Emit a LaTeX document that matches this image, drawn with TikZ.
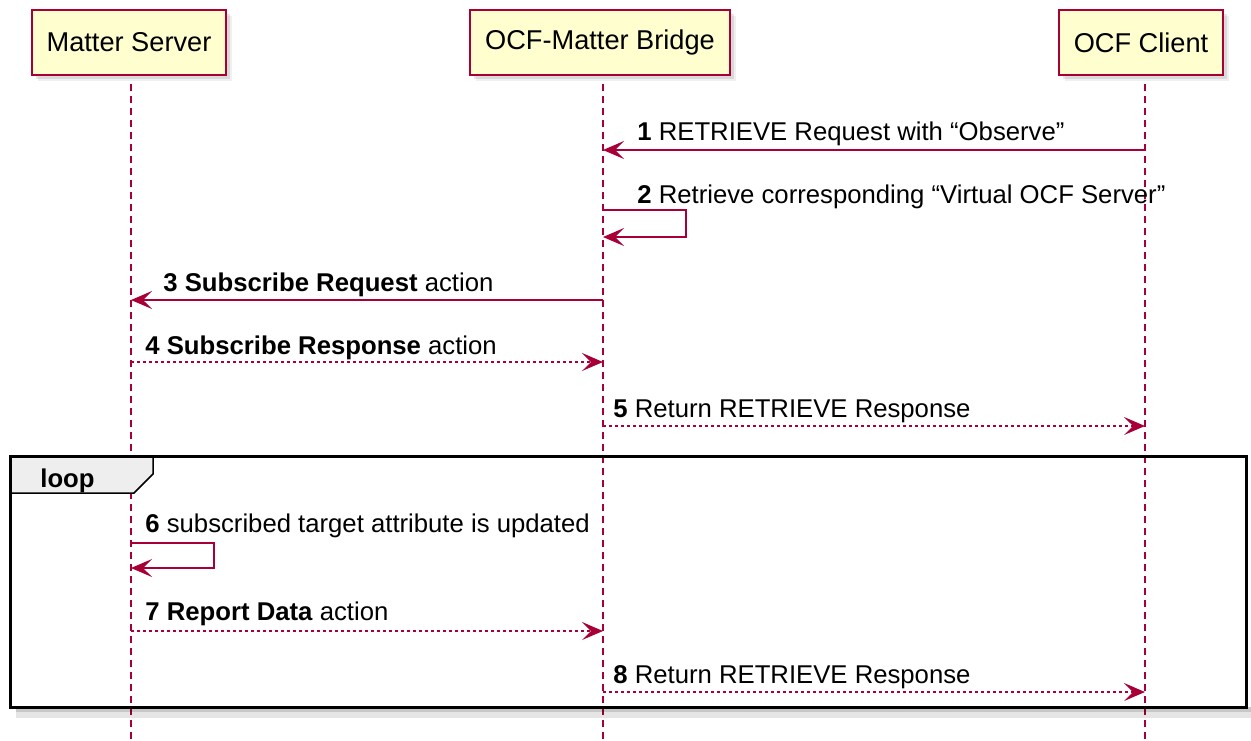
\documentclass[tikz,border=0pt]{standalone}
\usepackage{fontspec}
\setmainfont{Liberation Sans}
\usepackage{xcolor}
\usepackage{tikz}
\usetikzlibrary{arrows.meta}
\usetikzlibrary{shadows}
\definecolor{umlred}{HTML}{A80036}
\definecolor{umlfill}{HTML}{FEFECE}
\definecolor{tabgray}{HTML}{EEEEEE}

\begin{document}
\begin{tikzpicture}[x=0.5pt,y=-0.5pt,
  part/.style={draw=umlred,fill=umlfill,line width=1pt,minimum height=32.5pt,inner xsep=7.5pt,
    font=\fontsize{13.6}{16}\selectfont,
    drop shadow={shadow xshift=2pt,shadow yshift=-2pt,opacity=0.2},
    drop shadow={shadow xshift=3pt,shadow yshift=-3pt,opacity=0.12}},
  life/.style={color=umlred,line width=0.6pt,dash pattern=on 3.5pt off 2.5pt},
  msg/.style={color=umlred,line width=0.7pt,-{Stealth[length=10.5pt,width=9pt,inset=4.5pt]}},
  reply/.style={msg,dash pattern=on 1.5pt off 1.5pt},
  lbl/.style={anchor=base west,inner sep=0pt,font=\fontsize{12.85}{15}\selectfont}]
\useasboundingbox (0,0) rectangle (1251,740);
\node[part] (ms) at (129,42.5) {Matter Server};
\node[part] (br) at (600,42.5) {OCF-Matter Bridge};
\node[part] (oc) at (1141,42.5) {OCF Client};
\coordinate (bot) at (0,740);
\draw[life] (ms.south) ++(2,8) -- ([xshift=1pt]ms.south |- bot);
\draw[life] (br.south) ++(3,8) -- ([xshift=1.5pt]br.south |- bot);
\draw[life] (oc.south) ++(4,8) -- ([xshift=2pt]oc.south |- bot);
\coordinate (msl) at (131,0);
\coordinate (brl) at (603,0);
\coordinate (ocl) at (1145,0);

\fill[black,opacity=0.22] (16,707) rectangle (1251,712);
\fill[black,opacity=0.1] (16,712) rectangle (1251,718);
\filldraw[fill=tabgray,line width=0.75pt] (10,456) -- (153,456) -- (153,474) -- (134,493) -- (10,493) -- cycle;
\node[lbl,font=\fontsize{12.85}{15}\selectfont\bfseries] (loop) at (40,487) {loop};
\draw[line width=1.5pt] (10,456) rectangle (1246,707);

\coordinate (m1) at (0,150);
\draw[msg] (ocl |- m1) -- (brl |- m1);
\node[lbl] (l1) at (637,140) {\textbf{1} RETRIEVE Request with “Observe”};
\coordinate (m2) at (0,210);
\draw[msg] (brl |- m2) -- ++(83,0) -- ++(0,27) -- ++(-83,0);
\node[lbl] (l2) at (637,203) {\textbf{2} Retrieve corresponding “Virtual OCF Server”};
\coordinate (m3) at (0,300);
\draw[msg] (brl |- m3) -- (msl |- m3);
\node[lbl] (l3) at (163,291) {\textbf{3 Subscribe Request} action};
\coordinate (m4) at (0,362);
\draw[reply] (msl |- m4) -- (brl |- m4);
\node[lbl] (l4) at (145,354) {\textbf{4 Subscribe Response} action};
\coordinate (m5) at (0,426);
\draw[reply] (brl |- m5) -- (ocl |- m5);
\node[lbl] (l5) at (613,417) {\textbf{5} Return RETRIEVE Response};
\coordinate (m6) at (0,543);
\draw[msg] (msl |- m6) -- ++(83,0) -- ++(0,25) -- ++(-83,0);
\node[lbl] (l6) at (145,532) {\textbf{6} subscribed target attribute is updated};
\coordinate (m7) at (0,631);
\draw[reply] (msl |- m7) -- (brl |- m7);
\node[lbl] (l7) at (145,620) {\textbf{7 Report Data} action};
\coordinate (m8) at (0,692);
\draw[reply] (brl |- m8) -- (ocl |- m8);
\node[lbl] (l8) at (613,683) {\textbf{8} Return RETRIEVE Response};
\end{tikzpicture}
\end{document}
